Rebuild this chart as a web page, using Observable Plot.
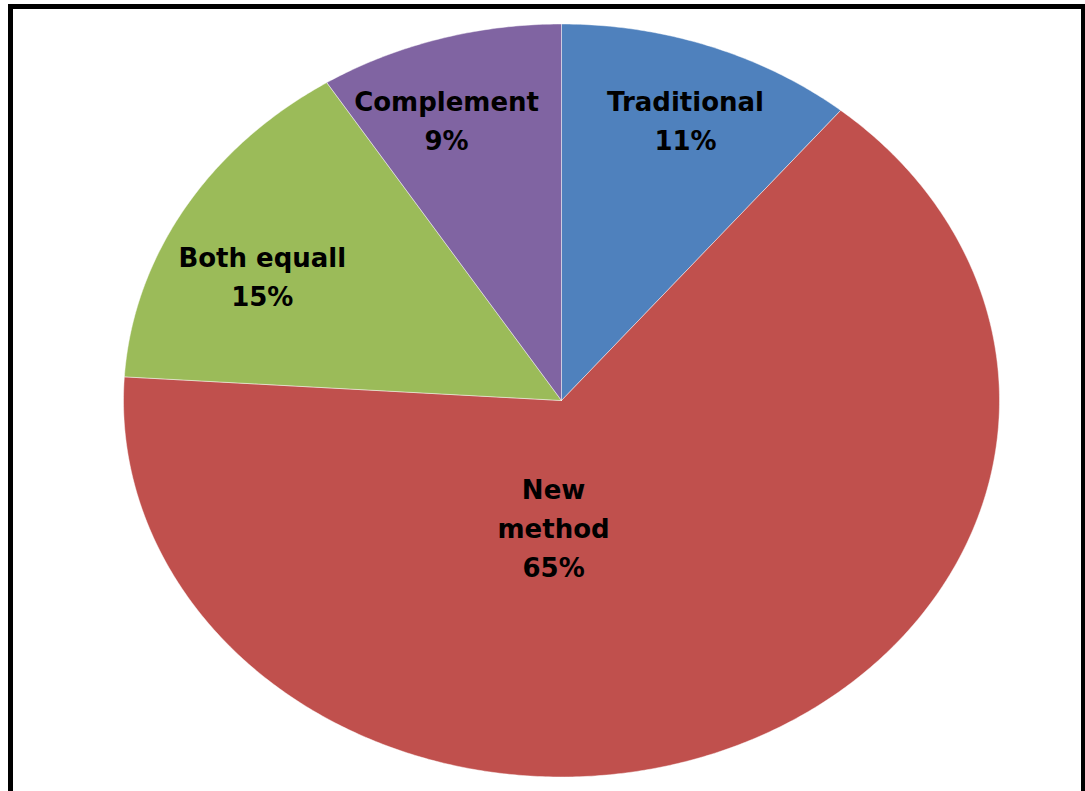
<!DOCTYPE html>
<html>
<head>
<meta charset="utf-8">
<script src="https://cdn.jsdelivr.net/npm/d3@7"></script>
<script src="https://cdn.jsdelivr.net/npm/@observablehq/plot@0.6"></script>
<style>
  html, body { margin: 0; padding: 0; background: #fff; overflow: hidden; }
  #wrap { position: relative; width: 1085px; height: 791px; }
  #wrap svg { position: absolute; left: 0; top: 0; background: transparent; }
  #frame { position: absolute; left: 8px; top: 4px; width: 1077px; height: 820px;
           box-sizing: border-box; border: 5px solid #000; border-right-width: 4px; pointer-events: none; }
</style>
</head>
<body>
<div id="wrap"></div>
<script>
// ---- data ----
const categories = ["Traditional", "New method", "Both equall", "Complement"];
const percents = [11, 65, 15, 9];
const colors = ["#4F81BD", "#C0504D", "#9BBB59", "#8064A2"];
const labelNames = ["Traditional", "New\nmethod", "Both equall", "Complement"];

// ---- layout: label anchor (angle deg clockwise from top, radius fraction) ----
const labelPolar = [[21, 0.79], [183, 0.346], [-64.8, 0.755], [-19.6, 0.782]];

// ---- build slices ----
const total = d3.sum(percents);
const slices = [];
let acc = 0;
categories.forEach((name, i) => {
  const a0 = acc / total * 2 * Math.PI;
  acc += percents[i];
  const a1 = acc / total * 2 * Math.PI;
  slices.push({name, a0, a1, i});
});

const polyPoints = [];
for (const s of slices) {
  polyPoints.push({name: s.name, x: 0, y: 0});
  const n = Math.max(2, Math.ceil((s.a1 - s.a0) / (Math.PI / 360)));
  for (let k = 0; k <= n; k++) {
    const a = s.a0 + (s.a1 - s.a0) * k / n;
    polyPoints.push({name: s.name, x: Math.sin(a), y: Math.cos(a)});
  }
  polyPoints.push({name: s.name, x: 0, y: 0});
}

const labels = categories.map((name, i) => {
  const [deg, r] = labelPolar[i];
  const a = deg * Math.PI / 180;
  return {name, text: labelNames[i] + "\n" + percents[i] + "%", x: r * Math.sin(a), y: r * Math.cos(a)};
});

const chart = Plot.plot({
  width: 1085,
  height: 791,
  marginLeft: 123,
  marginRight: 86,
  marginTop: 23.5,
  marginBottom: 14.5,
  x: {domain: [-1, 1], axis: null},
  y: {domain: [-1, 1], axis: null},
  color: {type: "ordinal", domain: categories, range: colors},
  marks: [
    Plot.line(polyPoints, {
      x: "x", y: "y", z: "name", fill: "name",
      stroke: "#ffffff", strokeOpacity: 0.45, strokeWidth: 1, curve: "linear"
    }),
    Plot.text(labels, {
      x: "x", y: "y", text: "text", dy: -5,
      fill: "#000", fontSize: 26, fontWeight: "bold",
      fontFamily: "DejaVu Sans", lineHeight: 1.5,
      textAnchor: "middle", lineAnchor: "middle"
    })
  ]
});

const wrap = document.getElementById("wrap");
wrap.appendChild(chart);
const frame = document.createElement("div");
frame.id = "frame";
wrap.appendChild(frame);
</script>
</body>
</html>
